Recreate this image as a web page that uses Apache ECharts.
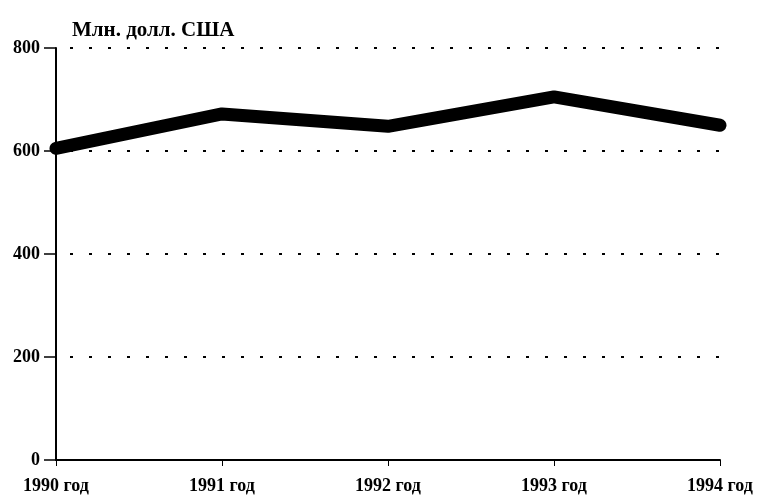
<!DOCTYPE html>
<html>
<head>
<meta charset="utf-8">
<script src="https://cdn.jsdelivr.net/npm/echarts@6/dist/echarts.min.js"></script>
<style>html,body{margin:0;padding:0;background:#fff;}#c{width:760px;height:501px;}</style>
</head>
<body>
<div id="c"></div>
<script>
const categories = ['1990 год', '1991 год', '1992 год', '1993 год', '1994 год'];
const values = [605, 672, 648, 705, 650];
const yTicks = [0, 200, 400, 600, 800];
const unitLabel = 'Млн. долл. США';

const chart = echarts.init(document.getElementById('c'));
const font = '"Liberation Serif", "DejaVu Serif", serif';
chart.setOption({
  animation: false,
  backgroundColor: '#fff',
  title: {
    text: unitLabel,
    left: 67, top: 15,
    textStyle: { fontFamily: font, fontWeight: 'bold', fontSize: 21, color: '#000' }
  },
  grid: { left: 56, right: 40, top: 48, bottom: 41 },
  xAxis: {
    type: 'category',
    data: categories,
    boundaryGap: false,
    axisLine: { lineStyle: { color: '#000', width: 2 } },
    axisTick: { show: true, alignWithLabel: true, length: 6, lineStyle: { color: '#000', width: 1 } },
    axisLabel: { fontFamily: font, fontWeight: 'bold', fontSize: 18, color: '#000', margin: 17 },
    splitLine: { show: false }
  },
  yAxis: {
    type: 'value',
    min: yTicks[0], max: yTicks[yTicks.length - 1], interval: 200,
    axisLine: { show: true, lineStyle: { color: '#000', width: 2 } },
    axisTick: { show: true, length: 12, lineStyle: { color: '#000', width: 1.5 } },
    axisLabel: { fontFamily: font, fontWeight: 'bold', fontSize: 18, color: '#000', margin: 16 },
    splitLine: { show: true, lineStyle: { color: '#000', width: 2, type: [3, 16], dashOffset: -14 } }
  },
  series: [{
    type: 'line',
    data: values,
    symbol: 'none',
    lineStyle: { color: '#000', width: 13, cap: 'round', join: 'round' }
  }]
});
</script>
</body>
</html>
